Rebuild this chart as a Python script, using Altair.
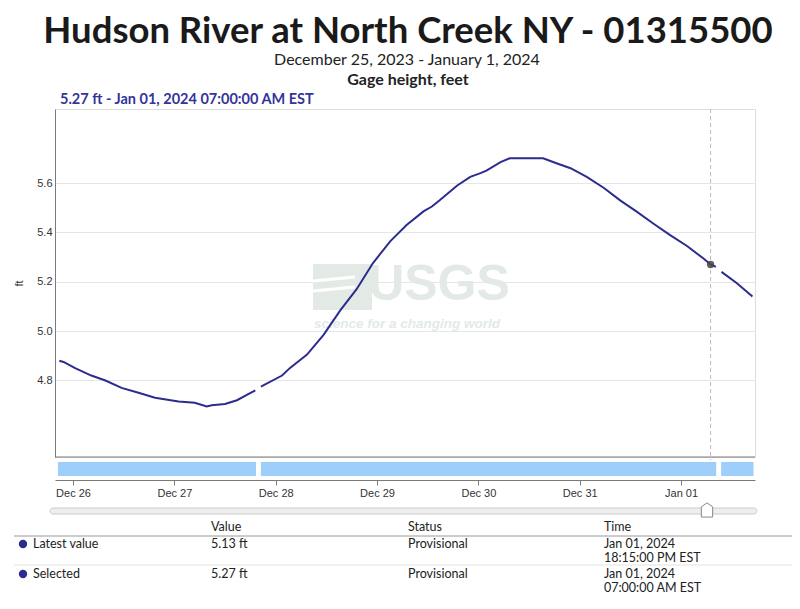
import altair as alt
import pandas as pd

# ---------------- text ----------------
TITLE = "Hudson River at North Creek NY - 01315500"
SUBTITLE = "December 25, 2023 - January 1, 2024"
PARAM = "Gage height, feet"
SEL_LABEL = "5.27 ft - Jan 01, 2024 07:00:00 AM EST"
Y_TITLE = "ft"

# ---------------- series ----------------
times = [
    "2023-12-25 20:45", "2023-12-25 21:45", "2023-12-26 00:30", "2023-12-26 04:20", "2023-12-26 07:40",
    "2023-12-26 11:30", "2023-12-26 15:30", "2023-12-26 19:25", "2023-12-27 01:00",
    "2023-12-27 04:50", "2023-12-27 07:40", "2023-12-27 08:50", "2023-12-27 12:00",
    "2023-12-27 14:50", "2023-12-27 17:30", "2023-12-27 19:10",
    "2023-12-27 20:30", "2023-12-28 01:30", "2023-12-28 03:20", "2023-12-28 07:25",
    "2023-12-28 11:20", "2023-12-28 15:20", "2023-12-28 19:10", "2023-12-28 23:00",
    "2023-12-29 03:10", "2023-12-29 07:00", "2023-12-29 11:00", "2023-12-29 13:00",
    "2023-12-29 14:50", "2023-12-29 19:00", "2023-12-29 22:05", "2023-12-30 00:30",
    "2023-12-30 01:55", "2023-12-30 05:15", "2023-12-30 07:25", "2023-12-30 15:20",
    "2023-12-30 18:30", "2023-12-30 21:50", "2023-12-31 01:40", "2023-12-31 05:45",
    "2023-12-31 09:35", "2023-12-31 13:25", "2023-12-31 17:30", "2023-12-31 21:20",
    "2024-01-01 01:25", "2024-01-01 05:15", "2024-01-01 07:00", "2024-01-01 08:15",
    "2024-01-01 09:35", "2024-01-01 13:10", "2024-01-01 16:55",
]
values = [
    4.88, 4.875, 4.85, 4.82, 4.80,
    4.77, 4.75, 4.73, 4.715,
    4.71, 4.695, 4.70, 4.705,
    4.72, 4.745, 4.76,
    4.775, 4.82, 4.85, 4.905,
    4.985, 5.085, 5.17, 5.275,
    5.365, 5.43, 5.485, 5.505,
    5.53, 5.59, 5.625, 5.64,
    5.65, 5.685, 5.70, 5.70,
    5.68, 5.66, 5.625, 5.58,
    5.53, 5.485, 5.435, 5.39,
    5.345, 5.295, 5.27, 5.26,
    5.24, 5.195, 5.14,
]
segments = [1] * 16 + [2] * 32 + [3] * 3

# data availability bars
avail_start = ["2023-12-25 20:25", "2023-12-27 20:30", "2024-01-01 09:30"]
avail_end = ["2023-12-27 19:20", "2024-01-01 08:20", "2024-01-01 17:10"]

# axes
tick_days = [0, 1, 2, 3, 4, 5, 6]
tick_labels = ["Dec 26", "Dec 27", "Dec 28", "Dec 29", "Dec 30", "Dec 31", "Jan 01"]
y_ticks = [4.8, 5.0, 5.2, 5.4, 5.6]

# selection
sel_time = "2024-01-01 07:00"
sel_value = 5.27

# table
table_headers = ["Value", "Status", "Time"]
row_names = ["Latest value", "Selected"]
row_values = ["5.13 ft", "5.27 ft"]
row_status = ["Provisional", "Provisional"]
row_dates = ["Jan 01, 2024", "Jan 01, 2024"]
row_clock = ["18:15:00 PM EST", "07:00:00 AM EST"]

# ---------------- build frames ----------------
ORIGIN = pd.Timestamp("2023-12-26 00:00")


def to_days(ts):
    return (pd.to_datetime(pd.Series(ts)) - ORIGIN) / pd.Timedelta(days=1)


line_df = pd.DataFrame({"d": to_days(times), "v": values, "seg": segments})
avail_df = pd.DataFrame({"s": to_days(avail_start), "e": to_days(avail_end)})
sel_df = pd.DataFrame({"d": to_days([sel_time]), "v": [sel_value]})

W, H = 700, 348
XDOM = [-0.178, 6.73]
YDOM = [4.49, 5.90]

NAVY = "#2c2c8e"
AXIS_GREY = "#7a7a7a"
WM = "#e3eae6"

label_expr = "[" + ",".join("'%s'" % t for t in tick_labels) + "][datum.value]"


def xenc(field):
    return alt.X(
        f"{field}:Q",
        scale=alt.Scale(domain=XDOM, nice=False, zero=False),
        axis=alt.Axis(
            values=tick_days, labelExpr=label_expr, grid=False, offset=23,
            domainColor=AXIS_GREY, tickColor=AXIS_GREY, tickSize=5,
            labelFont="Liberation Sans", labelFontSize=11, labelColor="#333",
            labelPadding=2, title=None,
        ),
    )


def yenc(field):
    return alt.Y(
        f"{field}:Q",
        scale=alt.Scale(domain=YDOM, nice=False, zero=False),
        axis=alt.Axis(
            values=y_ticks, format=".1f", grid=True, gridColor="#e6e6e6",
            ticks=False, domainColor=AXIS_GREY, labelFont="Liberation Sans",
            labelFontSize=11, labelColor="#333", labelPadding=3,
            title=Y_TITLE, titleFont="Liberation Sans", titleFontSize=11,
            titleFontWeight="normal", titleColor="#333", titlePadding=12,
        ),
    )


def text_layer(txt, x, y, **kw):
    return alt.Chart(pd.DataFrame({"t": [txt]})).mark_text(**kw).encode(
        x=alt.value(x), y=alt.value(y), text="t:N"
    )


one = pd.DataFrame({"k": [0]})
layers = []

# watermark
layers.append(alt.Chart(one).mark_rect(color=WM).encode(
    x=alt.value(258), x2=alt.value(317), y=alt.value(155), y2=alt.value(201)))
layers.append(alt.Chart(one).mark_rule(color="white", strokeWidth=3).encode(
    x=alt.value(258), x2=alt.value(300), y=alt.value(172), y2=alt.value(168)))
layers.append(alt.Chart(one).mark_rule(color="white", strokeWidth=3).encode(
    x=alt.value(258), x2=alt.value(300), y=alt.value(182), y2=alt.value(178)))
layers.append(text_layer("USGS", 384, 176, font="Liberation Sans",
                         fontSize=50, fontWeight="bold", color=WM, align="center",
                         baseline="middle"))
layers.append(text_layer("science for a changing world", 352, 215,
                         font="Liberation Sans", fontSize=13.5, fontStyle="italic",
                         fontWeight="bold", color=WM, align="center", baseline="middle"))

# plot bottom frame line
layers.append(alt.Chart(one).mark_rule(color=AXIS_GREY).encode(
    x=alt.value(0), x2=alt.value(W), y=alt.value(H)))

# availability bars
layers.append(alt.Chart(avail_df).mark_rect(color="#9ecffa").encode(
    x=xenc("s"), x2="e:Q", y=alt.value(353), y2=alt.value(367)))

# data line
layers.append(alt.Chart(line_df).mark_line(color=NAVY, strokeWidth=2).encode(
    x=xenc("d"), y=yenc("v"), detail="seg:N"))

# selection rule + point
layers.append(alt.Chart(sel_df).mark_rule(color="#bbbbbb", strokeDash=[4, 3]).encode(
    x=xenc("d"), y=alt.value(0), y2=alt.value(H + 3)))
layers.append(alt.Chart(sel_df).mark_circle(size=55, color="#444444", opacity=0.85).encode(
    x=xenc("d"), y=yenc("v")))

# titles
layers.append(text_layer(TITLE, 353, -77, font="Lato", fontSize=36.5,
                         fontWeight="bold", color="#1a1a1a", align="center",
                         baseline="middle"))
layers.append(text_layer(SUBTITLE, 352, -49, font="Lato", fontSize=16, color="#222",
                         align="center", baseline="middle"))
layers.append(text_layer(PARAM, 353, -29, font="Lato", fontSize=16, fontWeight="bold",
                         color="#222", align="center", baseline="middle"))
layers.append(text_layer(SEL_LABEL, 5, -9, font="Lato", fontSize=14.5, fontWeight="bold",
                         color="#34349a", align="left", baseline="middle"))

# slider
layers.append(alt.Chart(one).mark_rect(color="#eeeeee", stroke="#cccccc", cornerRadius=3).encode(
    x=alt.value(-5), x2=alt.value(702), y=alt.value(399), y2=alt.value(405)))
layers.append(alt.Chart(one).mark_point(
    shape="M0,-1 L0.8,-0.45 L0.8,1 L-0.8,1 L-0.8,-0.45 Z", size=200, filled=True,
    fill="white", stroke="#888888", strokeWidth=1, opacity=1).encode(
    x=alt.value(652), y=alt.value(401)))

# table
TF = "Lato"
FS = 12.5
col_x = [156, 353, 549]
for hx, h in zip(col_x, table_headers):
    layers.append(text_layer(h, hx, 418, font=TF, fontSize=FS, color="#222",
                             align="left", baseline="middle"))
layers.append(alt.Chart(one).mark_rule(color="#9a9a9a").encode(
    x=alt.value(-41), x2=alt.value(745), y=alt.value(427)))
layers.append(alt.Chart(one).mark_rule(color="#e2e2e2").encode(
    x=alt.value(-41), x2=alt.value(745), y=alt.value(456)))
row_y = [435, 465]
for i in range(len(row_names)):
    y0 = row_y[i]
    layers.append(alt.Chart(one).mark_circle(size=70, color=NAVY, opacity=1).encode(
        x=alt.value(-32), y=alt.value(y0)))
    layers.append(text_layer(row_names[i], -22, y0, font=TF, fontSize=FS, color="#222",
                             align="left", baseline="middle"))
    layers.append(text_layer(row_values[i], col_x[0], y0, font=TF, fontSize=FS, color="#222",
                             align="left", baseline="middle"))
    layers.append(text_layer(row_status[i], col_x[1], y0, font=TF, fontSize=FS, color="#222",
                             align="left", baseline="middle"))
    layers.append(text_layer(row_dates[i], col_x[2], y0, font=TF, fontSize=FS, color="#222",
                             align="left", baseline="middle"))
    layers.append(text_layer(row_clock[i], col_x[2], y0 + 14, font=TF, fontSize=FS,
                             color="#222", align="left", baseline="middle"))

chart = alt.layer(*layers).properties(
    width=W, height=H,
    autosize=alt.AutoSizeParams(type="none"),
    padding={"left": 47, "top": 101, "right": 37, "bottom": 144},
).configure_view(stroke=None).configure(background="white")

chart.save("out.html", embed_options={"renderer": "svg", "actions": False})
